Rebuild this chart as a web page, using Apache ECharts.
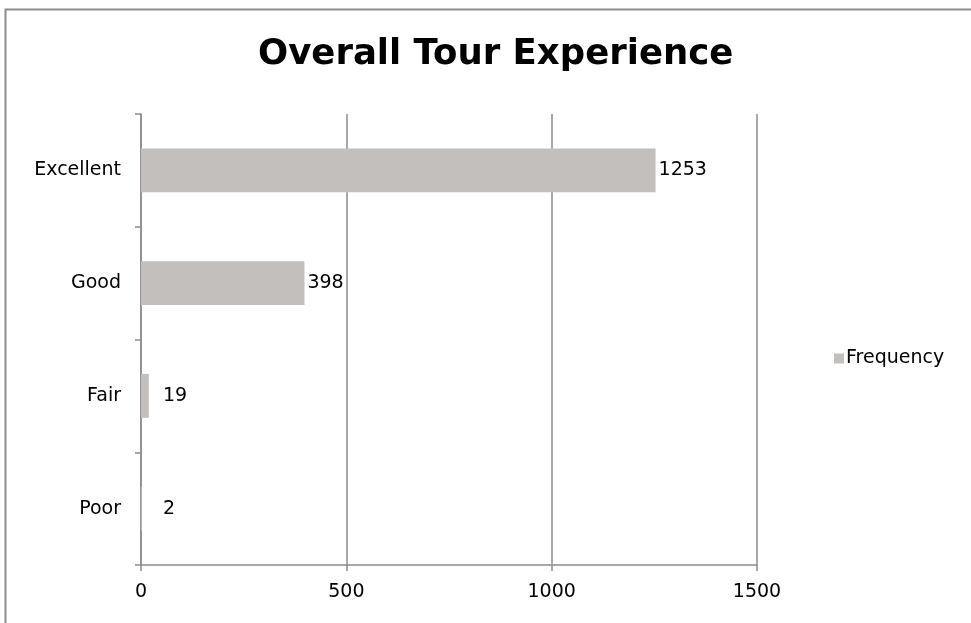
<!DOCTYPE html>
<html>
<head>
<meta charset="utf-8">
<script src="https://cdn.jsdelivr.net/npm/echarts@6/dist/echarts.min.js"></script>
<style>html,body{margin:0;padding:0;background:#fff}#c{width:971px;height:623px}</style>
</head>
<body>
<div id="c"></div>
<script>
const categories = ["Excellent", "Good", "Fair", "Poor"];
const frequency = [1253, 398, 19, 2];
const xTicks = [0, 500, 1000, 1500];
const seriesName = "Frequency";
const titleText = "Overall Tour Experience";

const FONT = "DejaVu Sans";
const chart = echarts.init(document.getElementById('c'));
const baseSeries = {
  name: seriesName, type: 'bar',
  barCategoryGap: '61%',
  itemStyle: { color: '#c3bfbd' },
  label: { show: true, position: 'right', distance: 3, fontFamily: FONT, fontSize: 19, color: '#000' }
};
chart.setOption({
  animation: false,
  backgroundColor: '#ffffff',
  textStyle: { fontFamily: FONT },
  graphic: [{
    type: 'rect', silent: true,
    shape: { x: 5.5, y: 9.5, width: 1100, height: 800 },
    style: { fill: 'none', stroke: '#8c8c8c', lineWidth: 2 }
  }],
  title: {
    text: titleText, left: 253, top: 32, itemGap: 0,
    textStyle: { fontFamily: FONT, fontWeight: 'bold', fontSize: 35.5, color: '#000' }
  },
  legend: {
    data: [seriesName], orient: 'vertical', left: 829, top: 344,
    icon: 'rect', itemWidth: 10, itemHeight: 10, itemGap: 2,
    itemStyle: { borderWidth: 0 },
    textStyle: { fontFamily: FONT, fontSize: 19, color: '#000', padding: [0, 0, 0, -3] }
  },
  grid: { left: 141, right: 214, top: 114, bottom: 58, containLabel: false },
  xAxis: {
    type: 'value', min: xTicks[0], max: xTicks[xTicks.length - 1], interval: xTicks[1] - xTicks[0],
    axisLine: { show: true, lineStyle: { color: '#8c8c8c', width: 1.5 } },
    axisTick: { show: true, length: 6, lineStyle: { color: '#8c8c8c', width: 1.5 } },
    splitLine: { show: true, lineStyle: { color: '#8c8c8c', width: 1.5 } },
    axisLabel: { fontFamily: FONT, fontSize: 19, color: '#000', margin: 18, formatter: v => String(v) }
  },
  yAxis: {
    type: 'category', data: categories, inverse: true,
    axisLine: { show: true, lineStyle: { color: '#8c8c8c', width: 1.5 } },
    axisTick: { show: true, length: 6, lineStyle: { color: '#8c8c8c', width: 1.5 } },
    axisLabel: { fontFamily: FONT, fontSize: 19, color: '#000', margin: 20 }
  },
  series: [Object.assign({}, baseSeries, { data: frequency })]
});
// Excel-like minimum label position: small bars keep their label a fixed gap from the axis
const axisX = chart.convertToPixel({ xAxisIndex: 0 }, 0);
const minLabelX = axisX + 22;
const items = frequency.map((v, i) => {
  const end = chart.convertToPixel({ xAxisIndex: 0 }, v) + 3;
  const off = Math.max(0, minLabelX - end);
  return { value: v, label: { offset: [off, 0] } };
});
chart.setOption({ series: [{ data: items }] });
</script>
</body>
</html>
